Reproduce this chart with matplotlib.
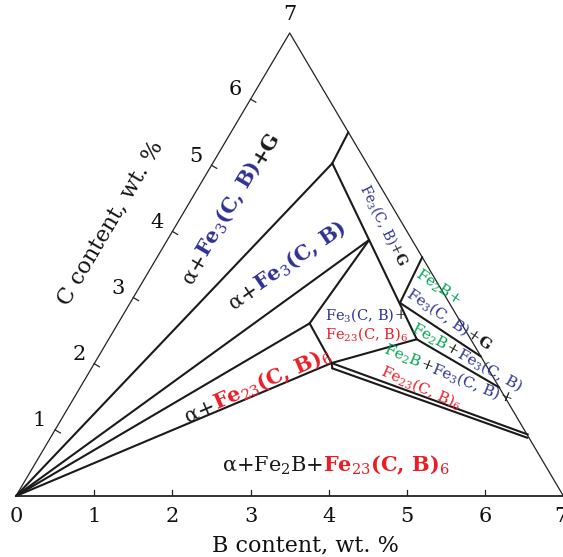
import numpy as np
import matplotlib
matplotlib.use("Agg")
import matplotlib.pyplot as plt
from matplotlib.transforms import IdentityTransform

plt.rcParams['font.family'] = ['DejaVu Serif']
plt.rcParams['mathtext.fontset'] = 'dejavuserif'

W, H = 563, 557
BLUE = '#2e3192'
RED = '#ed1c24'
GREEN = '#00a651'

# nodes of the section (B, C in wt. %)
node_names = ['O', 'P1', 'P2', 'P3', 'P4', 'P5', 'P6', 'P7', 'P8', 'P9', 'P9b', 'P10', 'P11', 'P12']
node_B = [0.0, 1.50, 1.53, 2.58, 3.45, 3.39, 3.94, 4.89, 5.36, 6.08, 6.10, 2.45, 3.03, 3.08]
node_C = [0.0, 5.50, 5.03, 3.87, 2.92, 3.61, 2.37, 2.11, 1.64, 0.93, 0.88, 2.61, 2.01, 1.93]

segments = [('O', 'P2'), ('O', 'P3'), ('O', 'P10'), ('O', 'P11'),
            ('P1', 'P2'), ('P2', 'P6'), ('P3', 'P10'), ('P10', 'P11'),
            ('P11', 'P6'), ('P5', 'P4'), ('P4', 'P7'), ('P6', 'P8'),
            ('P11', 'P9'), ('P11', 'P12'), ('P12', 'P9b')]

ticks = [1, 2, 3, 4, 5, 6]
tick_labels = ['0', '1', '2', '3', '4', '5', '6', '7']

nodes = {n: (b, c) for n, b, c in zip(node_names, node_B, node_C)}


def xy(b, c):
    b = np.asarray(b, float)
    c = np.asarray(c, float)
    return b + c / 2.0, c


fig = plt.figure(figsize=(W / 100, H / 100), dpi=100)
ax = fig.add_axes([16 / W, (H - 496) / H, 547.4 / W, 463 / H])
ax.set_xlim(0, 7)
ax.set_ylim(0, 7)
ax.axis('off')

# triangle
x, y = xy([0, 7], [0, 0])
ax.plot(x, y, color='#222222', lw=1.3, solid_capstyle='butt', clip_on=False)
x, y = xy([0, 0, 7], [0, 7, 0])
ax.plot(x, y, color='#222222', lw=0.9, clip_on=False)

for a, b in segments:
    x, y = xy([nodes[a][0], nodes[b][0]], [nodes[a][1], nodes[b][1]])
    ax.plot(x, y, color='#1a1a1a', lw=1.5, solid_capstyle='round', clip_on=False)

# ticks (drawn in pixel offsets)
inv = ax.transData.inverted()
for t in ticks:
    px0 = ax.transData.transform(xy(t, 0))
    p1 = inv.transform(px0 + np.array([0, 6]))
    ax.plot([xy(t, 0)[0], p1[0]], [0, p1[1]], color='#222222', lw=0.9)
    pl = ax.transData.transform(xy(0, t))
    p2 = inv.transform(pl + np.array([5.2, -3.05]))
    ax.plot([xy(0, t)[0], p2[0]], [t, p2[1]], color='#222222', lw=0.9)

for i, lab in enumerate(tick_labels):
    p = ax.transData.transform(xy(i, 0))
    ax.text(p[0] - (3 if i == 7 else 0), p[1] - 21, lab, transform=IdentityTransform(),
            ha='center', va='center', fontsize=15, color='#111111')
    q = ax.transData.transform(xy(0, i))
    if i == 0:
        continue
    if i == 7:
        off = np.array([0, 18])
    else:
        off = np.array([-15.5, 9.2])
    ax.text(q[0] + off[0], q[1] + off[1], lab, transform=IdentityTransform(), ha='center',
            va='center', fontsize=15, color='#111111')

fig.text(305 / W, 1 - 545 / H, 'B content, wt. %', ha='center', va='center', fontsize=16,
         color='#111111')
fig.text(110 / W, 1 - 223 / H, 'C content, wt. %', ha='center', va='center', fontsize=16,
         rotation=59.4, color='#111111')

renderer = fig.canvas.get_renderer()


def rich(cx, cy, pieces, size, rot=0.0, ha='center'):
    widths = []
    for s, c, w in pieces:
        t = ax.text(0, 0, s, fontsize=size, fontweight=w)
        widths.append(t.get_window_extent(renderer).width)
        t.remove()
    th = np.deg2rad(rot)
    u = np.array([np.cos(th), np.sin(th)])
    n = np.array([-np.sin(th), np.cos(th)])
    em = size * 100 / 72
    p = np.array([cx, H - cy]) - 0.3 * em * n
    if ha == 'center':
        p = p - sum(widths) / 2 * u
    for (s, c, w), wd in zip(pieces, widths):
        ax.text(p[0], p[1], s, transform=IdentityTransform(), rotation=rot,
                rotation_mode='anchor', ha='left', va='baseline', fontsize=size,
                fontweight=w, color=c, clip_on=False)
        p = p + wd * u


K = '#1a1a1a'
fe3b = (r'Fe$_3$(C, B)', BLUE, 'bold')
rich(230, 207, [('α+', K, 'normal'), fe3b, ('+G', K, 'bold')], 15, 59.4)
rich(287, 265, [('α+', K, 'normal'), fe3b], 15, 34.4)
rich(258, 385, [('α+', K, 'normal'), (r'Fe$_{23}$(C, B)$_6$', RED, 'bold')], 15, 23.5)
rich(336, 465, [('α+Fe$_2$B+', K, 'normal'), (r'Fe$_{23}$(C, B)$_6$', RED, 'bold')], 15, 0)

rich(383, 225, [(r'Fe$_3$(C, B)', BLUE, 'normal'), ('+', K, 'normal'), ('G', K, 'bold')], 10, -64)
rich(325, 315, [(r'Fe$_3$(C, B)', BLUE, 'normal'), ('+', K, 'normal')], 10.5, 0, ha='left')
rich(325, 334, [(r'Fe$_{23}$(C, B)$_6$', RED, 'normal')], 10.5, 0, ha='left')
rich(438, 287, [(r'Fe$_2$B+', GREEN, 'normal')], 11, -34)
rich(449, 319, [(r'Fe$_3$(C, B)', BLUE, 'normal'), ('+', K, 'normal'), ('G', K, 'bold')], 11, -34)
rich(467, 357, [(r'Fe$_2$B', GREEN, 'normal'), ('+', K, 'normal'),
                (r'Fe$_3$(C, B)', BLUE, 'normal')], 11, -29)
rich(448, 374, [(r'Fe$_2$B', GREEN, 'normal'), ('+', K, 'normal'),
                (r'Fe$_3$(C, B)', BLUE, 'normal'), ('+', K, 'normal')], 11, -22)
rich(421, 387, [(r'Fe$_{23}$(C, B)$_6$', RED, 'normal')], 11, -24)

fig.savefig('out.png', dpi=100)
